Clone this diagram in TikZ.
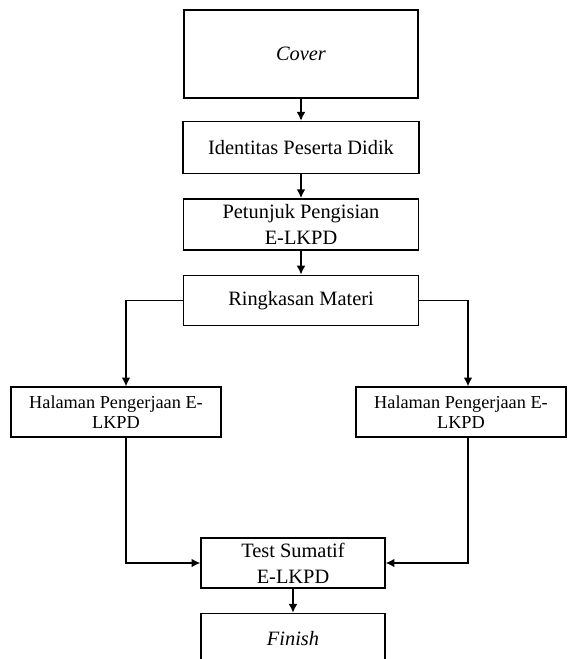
\documentclass[tikz,border=0pt]{standalone}
\usepackage{fontspec}
\setmainfont{Liberation Serif}
\usetikzlibrary{arrows.meta,positioning}

\begin{document}
\begin{tikzpicture}[
	mybox/.style={
		rectangle,
		draw=black,
		line width=0.8pt,
		align=center,
		inner sep=0pt,
		font=\fontsize{11.6}{14.8}\selectfont},
	sidebox/.style={
		mybox,
		minimum width=4.2cm,
		minimum height=1cm,
		font=\fontsize{10.4}{11.2}\selectfont},
	myarrow/.style={-{Latex[length=5pt,width=5pt]},line width=0.8pt},
	node distance=0.5cm
	]
	\useasboundingbox (0,0) rectangle (11.6,-13.18);
	\clip (0,0) rectangle (11.6,-13.18);

	\node[mybox,minimum width=4.68cm,minimum height=1.76cm] (cover) at (6.02,-1.08) {\textit{Cover}};
	\node[mybox,minimum width=4.72cm,minimum height=1.04cm,below=0.44cm of cover] (ident) {Identitas Peserta Didik};
	\node[mybox,minimum width=4.7cm,minimum height=1.02cm,below=0.48cm of ident] (petun) {Petunjuk Pengisian\\E-LKPD};
	\node[mybox,minimum width=4.7cm,minimum height=1cm,below=0.48cm of petun] (ring) {Ringkasan Materi};
	\node[sidebox] (hal1) at (2.32,-8.24) {Halaman Pengerjaan E-\\LKPD};
	\node[sidebox] (hal2) at (9.22,-8.24) {Halaman Pengerjaan E-\\LKPD};
	\node[mybox,minimum width=3.68cm,minimum height=1cm] (test) at (5.86,-11.26) {Test Sumatif\\E-LKPD};
	\node[mybox,minimum width=3.68cm,minimum height=1cm,below=0.48cm of test] (fin) {\textit{Finish}};

	\foreach \i/\j in {% upper node/lower node
		cover/ident,
		ident/petun,
		petun/ring,
		test/fin}
		\draw [myarrow] (\i) -- (\j);

	% side branches
	\draw [myarrow] (ring.west) -| ([xshift=0.2cm]hal1.north);
	\draw [myarrow] (ring.east) -| ([xshift=0.14cm]hal2.north);
	\draw [myarrow] ([xshift=0.2cm]hal1.south) |- (test.west);
	\draw [myarrow] ([xshift=0.14cm]hal2.south) |- (test.east);
\end{tikzpicture}
\end{document}
